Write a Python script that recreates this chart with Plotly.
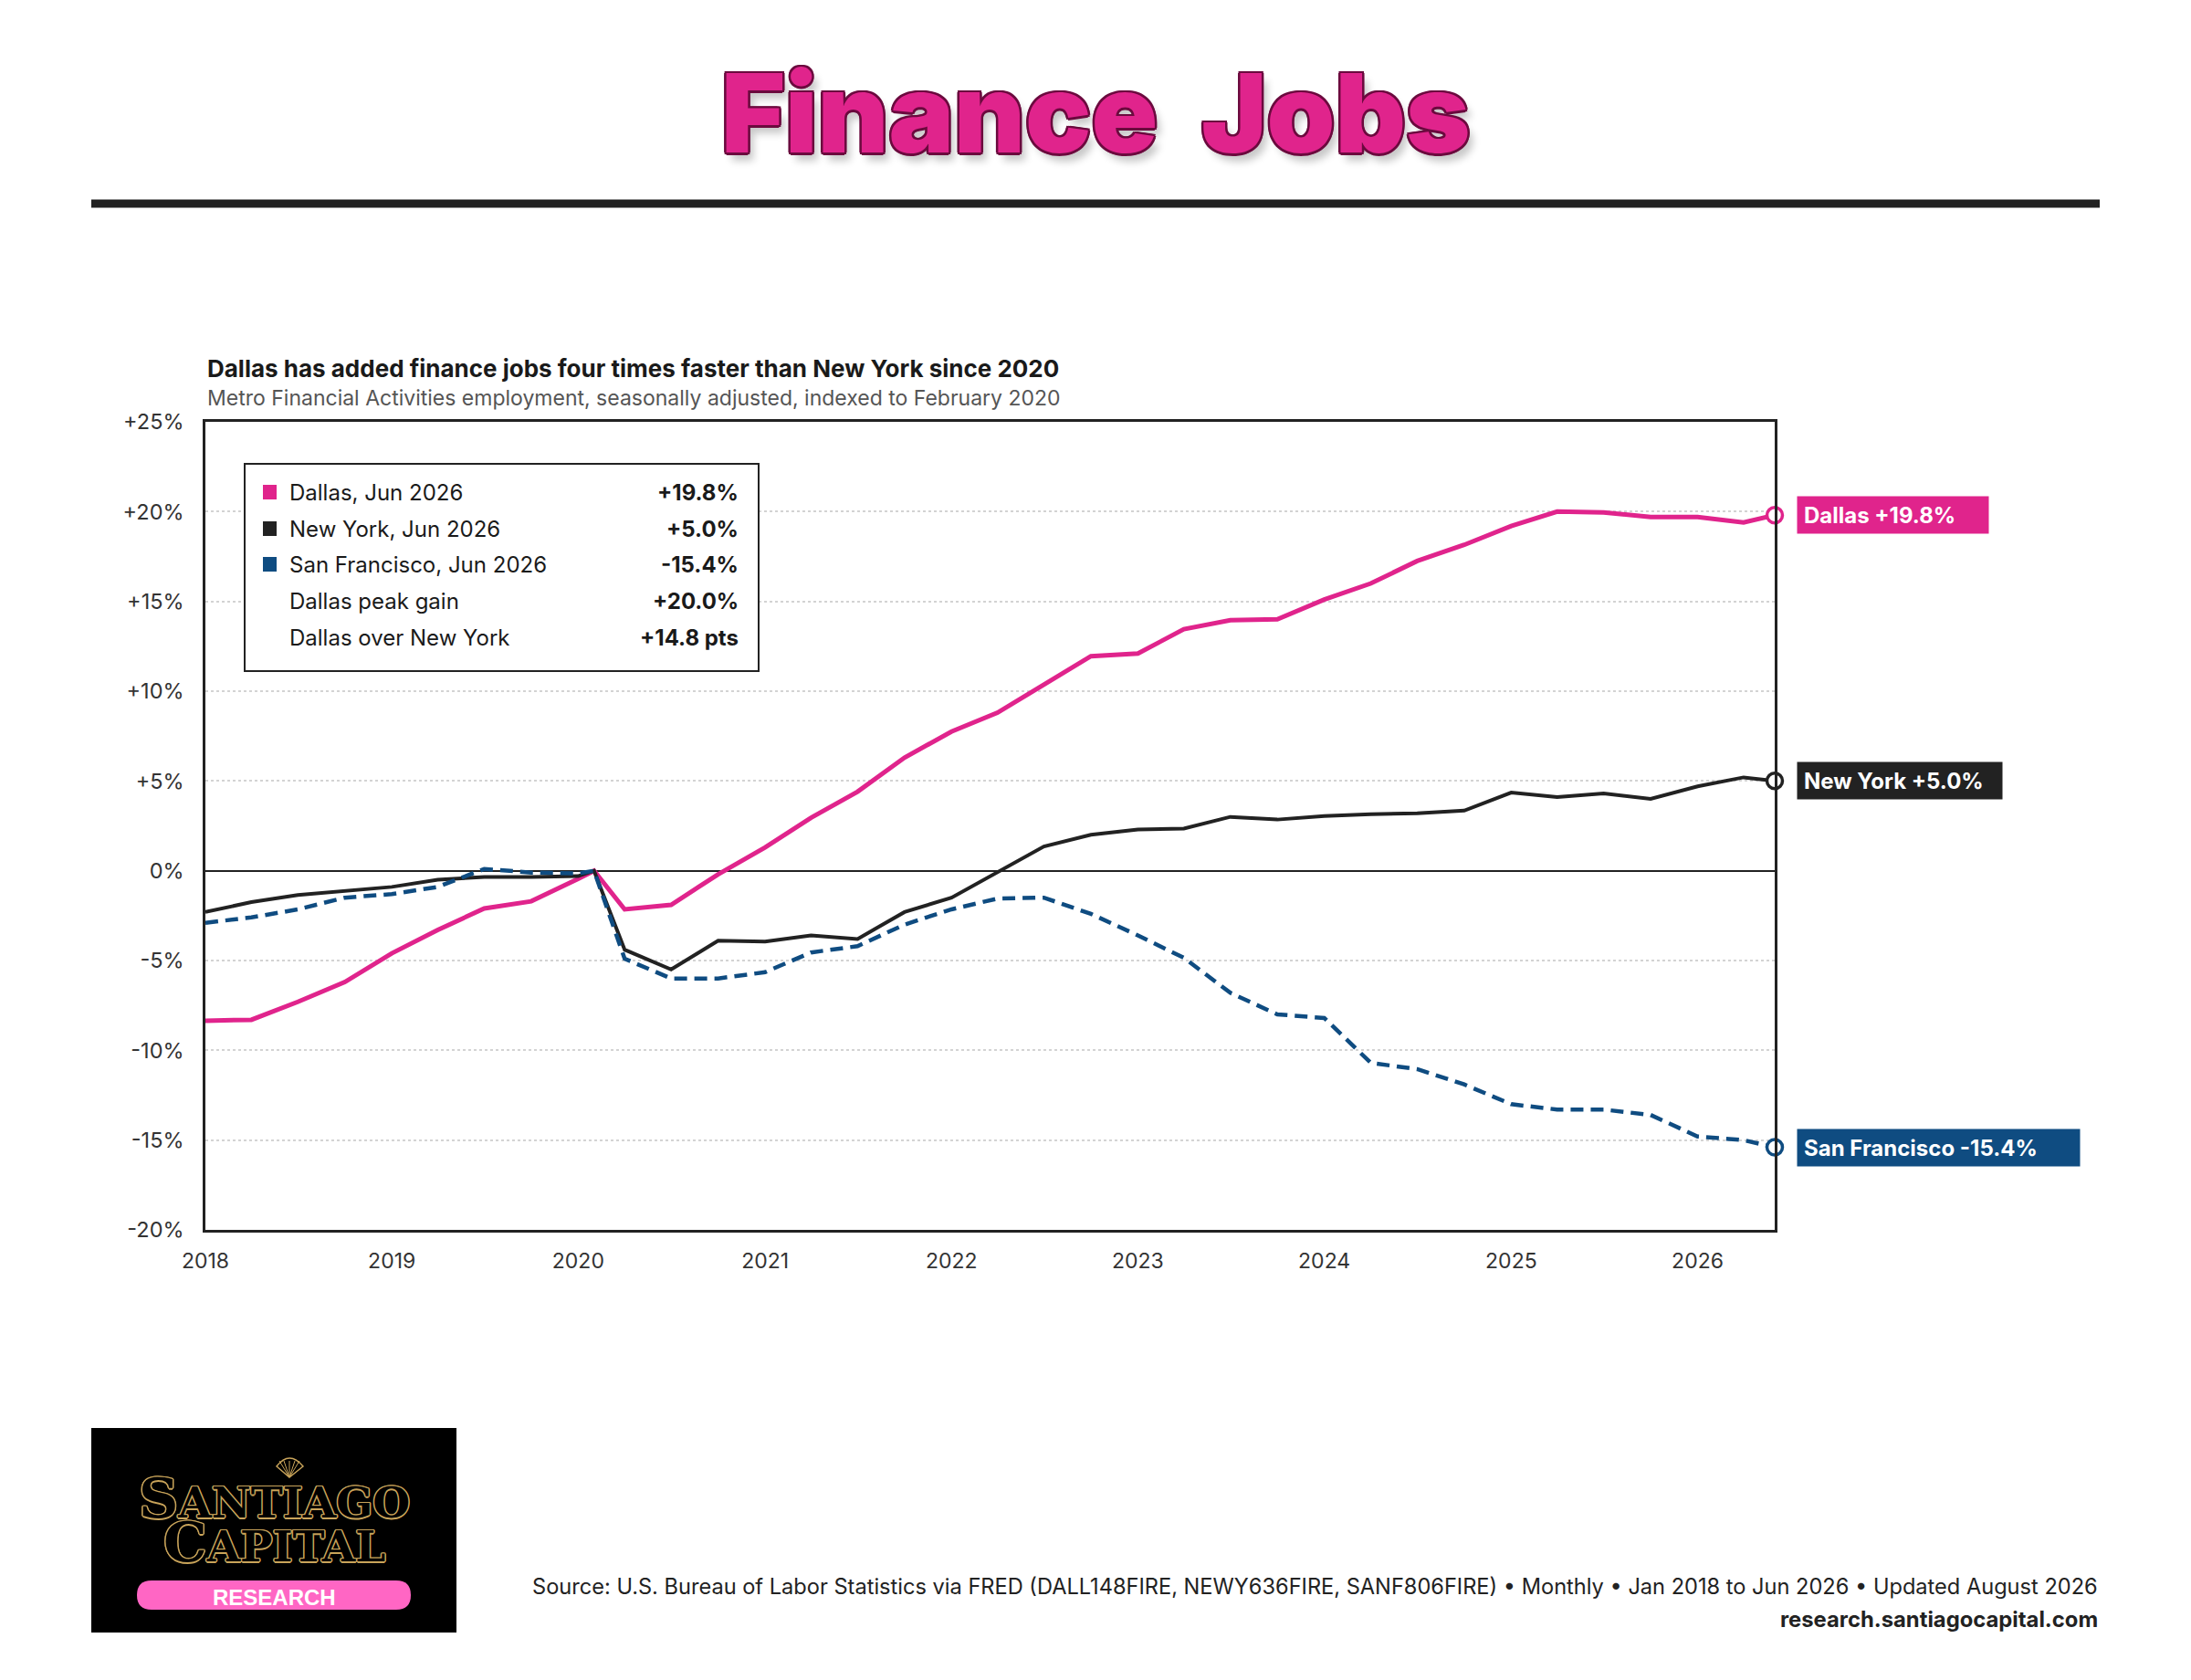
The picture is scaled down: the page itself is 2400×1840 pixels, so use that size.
import plotly.graph_objects as go

# quarterly samples, indexed to Feb 2020 = 0
dates = ["2018-01-01", "2018-04-01", "2018-07-01", "2018-10-01",
         "2019-01-01", "2019-04-01", "2019-07-01", "2019-10-01",
         "2020-01-01", "2020-02-01", "2020-04-01", "2020-07-01", "2020-10-01",
         "2021-01-01", "2021-04-01", "2021-07-01", "2021-10-01",
         "2022-01-01", "2022-04-01", "2022-07-01", "2022-10-01",
         "2023-01-01", "2023-04-01", "2023-07-01", "2023-10-01",
         "2024-01-01", "2024-04-01", "2024-07-01", "2024-10-01",
         "2025-01-01", "2025-04-01", "2025-07-01", "2025-10-01",
         "2026-01-01", "2026-04-01", "2026-06-01"]

dallas = [-8.35, -8.3, -7.3, -6.2, -4.6, -3.3, -2.1, -1.7, -0.45, 0.0, -2.15, -1.9, -0.2,
          1.3, 2.95, 4.4, 6.3, 7.75, 8.8, 10.35, 11.95, 12.1, 13.45, 13.95, 14.0,
          15.1, 16.0, 17.25, 18.15, 19.2, 20.0, 19.95, 19.7, 19.7, 19.4, 19.8]
new_york = [-2.3, -1.75, -1.35, -1.1, -0.9, -0.5, -0.35, -0.35, -0.3, 0.0, -4.4, -5.5, -3.9,
            -3.95, -3.6, -3.8, -2.3, -1.5, -0.1, 1.35, 2.0, 2.3, 2.35, 3.0, 2.85,
            3.05, 3.15, 3.2, 3.35, 4.35, 4.1, 4.3, 4.0, 4.7, 5.2, 5.0]
san_francisco = [-2.9, -2.6, -2.15, -1.5, -1.3, -0.9, 0.1, -0.1, -0.15, 0.0, -4.9, -6.0, -6.0,
                 -5.65, -4.55, -4.2, -3.0, -2.15, -1.55, -1.5, -2.4, -3.6, -4.85, -6.8, -8.0,
                 -8.2, -10.7, -11.05, -11.9, -13.0, -13.3, -13.3, -13.6, -14.8, -15.0, -15.4]

y_ticks = [-20, -15, -10, -5, 0, 5, 10, 15, 20, 25]
y_labels = ["-20%", "-15%", "-10%", "-5%", "0%", "+5%", "+10%", "+15%", "+20%", "+25%"]
x_years = ["2018", "2019", "2020", "2021", "2022", "2023", "2024", "2025", "2026"]

PINK = "#E0248C"
BLACK = "#222222"
NAVY = "#0F4C81"
FONT = "Inter, Roboto, sans-serif"

# plot area in page pixels (page body has an 8px margin)
OFF = 8
PL, PR, PT, PB = 225, 1944, 462, 1347
def px(x):
    return (x - PL) / (PR - PL)
def py(y):
    return (PB - y) / (PB - PT)

fig = go.Figure()
fig.add_scatter(x=dates, y=dallas, mode="lines", line=dict(color=PINK, width=5))
fig.add_scatter(x=dates, y=new_york, mode="lines", line=dict(color=BLACK, width=4))
fig.add_scatter(x=dates, y=san_francisco, mode="lines", line=dict(color=NAVY, width=4.5, dash="14px,8px"))

# end markers
for ser, col in [(dallas, PINK), (new_york, BLACK), (san_francisco, NAVY)]:
    fig.add_scatter(x=[dates[-1]], y=[ser[-1]], mode="markers", cliponaxis=False,
                    marker=dict(symbol="circle", size=17, color="white", line=dict(color=col, width=3.5)))

fig.update_xaxes(range=[dates[0], dates[-1]], tickvals=[y + "-01-01" for y in x_years], ticktext=x_years,
                 showgrid=False, showline=True, mirror=True, linecolor=BLACK, linewidth=2.5,
                 ticks="", ticklabelstandoff=12, tickfont=dict(size=23, color="#333", family=FONT), zeroline=False)
fig.update_yaxes(range=[-20, 25], tickvals=y_ticks, ticktext=y_labels,
                 showgrid=True, gridcolor="#d3d3d3", gridwidth=1.5, griddash="dot",
                 zeroline=True, zerolinecolor=BLACK, zerolinewidth=2,
                 showline=True, mirror=True, linecolor=BLACK, linewidth=2.5,
                 ticks="", ticklabelstandoff=16, tickfont=dict(size=23.5, color="#333", family=FONT))

ann = []
shapes = []

# big title
outline = "#6B0A3E"
shadow = ", ".join(f"{a}px {b}px 0 {outline}" for a, b in
                   [(-2, -2), (2, -2), (-2, 2), (2, 2), (0, -2.5), (0, 2.5), (-2.5, 0), (2.5, 0)])
shadow += ", 6px 9px 8px rgba(0,0,0,0.22)"
ann.append(dict(x=px(1200), y=py(123), xref="paper", yref="paper", showarrow=False,
                text="Finance\u00a0 Jobs", xanchor="center", yanchor="middle",
                font=dict(size=120, color=PINK, family="Inter, 'DejaVu Sans', sans-serif",
                          weight=900, shadow=shadow)))
shapes.append(dict(type="line", xref="paper", yref="paper", x0=px(100), x1=px(2300),
                   y0=py(223), y1=py(223), line=dict(color=BLACK, width=9)))

# chart headings
ann.append(dict(x=px(225), y=py(403), xref="paper", yref="paper", showarrow=False, xanchor="left",
                yanchor="middle", text="<b>Dallas has added finance jobs four times faster than New York since 2020</b>",
                font=dict(size=26, color="#1a1a1a", family=FONT)))
ann.append(dict(x=px(225), y=py(436), xref="paper", yref="paper", showarrow=False, xanchor="left",
                yanchor="middle", text="Metro Financial Activities employment, seasonally adjusted, indexed to February 2020",
                font=dict(size=23, color="#555", family=FONT)))

# stats box
shapes.append(dict(type="rect", xref="paper", yref="paper", x0=px(268), x1=px(831), y0=py(735), y1=py(508),
                   line=dict(color=BLACK, width=2), fillcolor="white", layer="above"))
rows = [
    (PINK, "Dallas, Jun 2026", f"{dallas[-1]:+.1f}%"),
    (BLACK, "New York, Jun 2026", f"{new_york[-1]:+.1f}%"),
    (NAVY, "San Francisco, Jun 2026", f"{san_francisco[-1]:+.1f}%"),
    (None, "Dallas peak gain", f"{max(dallas):+.1f}%"),
    (None, "Dallas over New York", f"{dallas[-1] - new_york[-1]:+.1f} pts"),
]
row_y = [539, 579, 618, 658, 698]
for (col, label, val), ry in zip(rows, row_y):
    if col:
        shapes.append(dict(type="rect", xref="paper", yref="paper", x0=px(288), x1=px(303),
                           y0=py(ry + 8), y1=py(ry - 8), line=dict(width=0), fillcolor=col, layer="above"))
    ann.append(dict(x=px(315), y=py(ry), xref="paper", yref="paper", showarrow=False, xanchor="left",
                    yanchor="middle", text=label, font=dict(size=24, color="#1a1a1a", family=FONT)))
    ann.append(dict(x=px(811), y=py(ry), xref="paper", yref="paper", showarrow=False, xanchor="right",
                    yanchor="middle", text=f"<b>{val}</b>", font=dict(size=24, color="#1a1a1a", family=FONT)))

# end labels
for name, ser, col, w in [("Dallas", dallas, PINK, 213), ("New York", new_york, BLACK, 228),
                          ("San Francisco", san_francisco, NAVY, 313)]:
    ann.append(dict(x=px(1968), y=ser[-1], xref="paper", yref="y", showarrow=False, xanchor="left",
                    yanchor="middle", align="left", width=w - 18, height=26, borderpad=7, bgcolor=col,
                    text=f"<b>{name} {ser[-1]:+.1f}%</b>", font=dict(size=24, color="white", family=FONT)))

# logo block
shapes.append(dict(type="rect", xref="paper", yref="paper", x0=px(100), x1=px(500), y0=py(1788), y1=py(1564),
                   line=dict(width=0), fillcolor="black"))
gold = "#C9A45A"
gold_outline = ", ".join(f"{a}px {b}px 0 {gold}" for a, b in
                         [(-1, -1), (1, -1), (-1, 1), (1, 1), (0, -1.5), (0, 1.5), (-1.5, 0), (1.5, 0)])
# scallop shell
shapes.append(dict(type="path", xref="paper", yref="paper",
                   path=f"M {px(303)},{py(1606)} Q {px(317)},{py(1588)} {px(332)},{py(1606)} "
                        f"L {px(317)},{py(1618)} Z",
                   line=dict(color=gold, width=1.5), fillcolor="black"))
for sx in [306, 311, 317, 323, 328]:
    shapes.append(dict(type="line", xref="paper", yref="paper", x0=px(317), y0=py(1618), x1=px(sx), y1=py(1600),
                       line=dict(color=gold, width=1)))
# one text block, line pitch set by the small base size
big = "<span style='font-size:60px'>{}</span>"
small = "<span style='font-size:47px'>{}</span>"
logo_text = big.format("S") + small.format("ANTIAGO") + "<br>" + big.format("C") + small.format("APITAL")
ann.append(dict(x=px(300), y=py(1665), xref="paper", yref="paper", showarrow=False, xanchor="center",
                yanchor="middle", align="center", text=logo_text,
                font=dict(size=37, color="black", family="'DejaVu Serif', serif", weight=700,
                          shadow=gold_outline)))
# research pill
r = 16
x0, x1, y0, y1 = 150, 450, 1731, 1763
pill = (f"M {px(x0 + r)},{py(y0)} L {px(x1 - r)},{py(y0)} Q {px(x1)},{py(y0)} {px(x1)},{py(y0 + r)} "
        f"Q {px(x1)},{py(y1)} {px(x1 - r)},{py(y1)} L {px(x0 + r)},{py(y1)} Q {px(x0)},{py(y1)} {px(x0)},{py(y0 + r)} "
        f"Q {px(x0)},{py(y0)} {px(x0 + r)},{py(y0)} Z")
shapes.append(dict(type="path", xref="paper", yref="paper", path=pill, line=dict(width=0), fillcolor="#FF66C4"))
ann.append(dict(x=px(300), y=py(1749), xref="paper", yref="paper", showarrow=False, xanchor="center",
                yanchor="middle", text="RESEARCH",
                font=dict(size=24, color="white", family="'Liberation Sans', Arial, sans-serif", weight=700)))

# footer
ann.append(dict(x=px(2300), y=py(1737), xref="paper", yref="paper", showarrow=False, xanchor="right",
                yanchor="middle",
                text="Source: U.S. Bureau of Labor Statistics via FRED (DALL148FIRE, NEWY636FIRE, SANF806FIRE) \u2022 Monthly \u2022 Jan 2018 to Jun 2026 \u2022 Updated August 2026",
                font=dict(size=23.6, color="#222", family=FONT)))
ann.append(dict(x=px(2300), y=py(1773), xref="paper", yref="paper", showarrow=False, xanchor="right",
                yanchor="middle", text="<b>research.santiagocapital.com</b>",
                font=dict(size=23.8, color="#222", family=FONT)))

fig.update_layout(width=2400, height=1840,
                  margin=dict(l=PL - OFF, r=2400 - PR + OFF, t=PT - OFF, b=1840 - PB + OFF),
                  plot_bgcolor="white", paper_bgcolor="white", showlegend=False,
                  font=dict(family=FONT), annotations=ann, shapes=shapes)

fig.write_html("out.html")
